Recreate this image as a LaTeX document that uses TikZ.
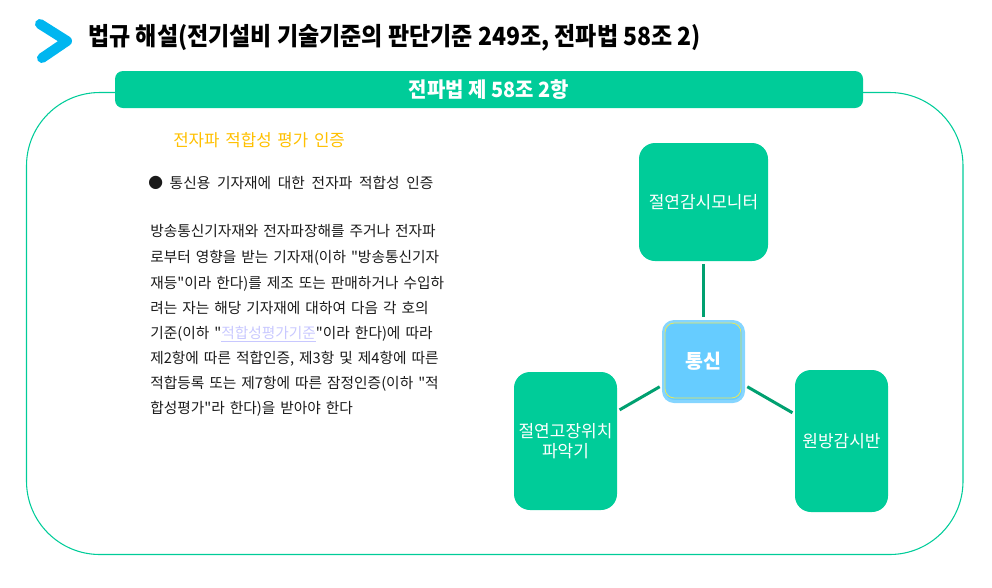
\documentclass[tikz,border=0pt]{standalone}
\usepackage{fontspec}
\setmainfont{Noto Sans CJK KR}[Ligatures=TeXOff]
\newfontfamily\krcond{Noto Sans CJK KR}[Ligatures=TeXOff, FakeStretch=0.92]
\newfontfamily\krhdr{Noto Sans CJK KR}[Ligatures=TeXOff, FakeStretch=0.95]
\definecolor{grn}{HTML}{00CC99}
\definecolor{dgrn}{HTML}{00A070}
\definecolor{sky}{HTML}{66CCFF}
\definecolor{skyb}{HTML}{85D5FF}
\definecolor{ylwline}{HTML}{E8E85A}
\definecolor{ylw}{HTML}{FFC000}
\definecolor{chev}{HTML}{00B6F0}
\definecolor{lnk}{HTML}{C8C8FF}
\definecolor{txt}{HTML}{1A1A1A}
\newcommand{\px}[1]{\fontsize{\dimexpr #1pt*3/4\relax}{\dimexpr #1pt*9/10\relax}\selectfont}
\newcommand{\wsp}{\spaceskip=0.34em plus 0.1em\relax}
\newcommand{\wspb}{\spaceskip=0.46em plus 0.1em\relax}
\tikzset{
  line/.style={inner sep=0pt, text height=0.88em, text depth=0.12em, anchor=west},
  bodytxt/.style={line, text=txt, font=\px{14.7}\wsp},
  greenbox/.style={fill=grn, rounded corners=12pt, text=white, font=\px{17}, align=center, inner sep=0pt},
  conn/.style={draw=dgrn, line width=2.25pt, shorten <=2pt, shorten >=2pt},
}
\begin{document}
\begin{tikzpicture}[x=0.75pt, y=-0.75pt]
\useasboundingbox (0,0) rectangle (992,587);
% chevron logo
\draw[chev, line width=7.5pt, line cap=round, line join=round] (40,24) -- (67,41) -- (42,58);
% title
\node[line, font=\krcond\bfseries\px{25}] (title) at (88,40) {법규 해설(전기설비 기술기준의 판단기준 249조, 전파법 58조 2)};
% frame
\draw[grn, line width=0.8pt, rounded corners=55pt] (26.5,92.5) rectangle (963,554.5);
% header
\node[fill=grn, rounded corners=6pt, minimum width=561pt, minimum height=27.75pt, inner sep=0pt] (hdr) at (489,89.5) {};
\node[text=white, font=\krhdr\bfseries\px{21}, inner sep=0pt] (hdrt) at (hdr.center) {전파법 제 58조 2항};
% left text
\node[line, text=ylw, font=\px{16.8}\wsp] (sub) at (173,141) {전자파 적합성 평가 인증};
\node[line, text=txt, font=\px{14.7}\wspb] (bul) at (148,183) {● 통신용 기자재에 대한 전자파 적합성 인증};
\node[bodytxt] (l1) at (150,231.7) {방송통신기자재와 전자파장해를 주거나 전자파};
\node[bodytxt] (l2) at (150,257.3) {로부터 영향을 받는 기자재(이하 "방송통신기자};
\node[bodytxt] (l3) at (150,283.3) {재등"이라 한다)를 제조 또는 판매하거나 수입하};
\node[bodytxt] (l4) at (150,308.3) {려는 자는 해당 기자재에 대하여 다음 각 호의};
\node[bodytxt] (l5) at (150,333.3) {기준(이하 "\textcolor{lnk}{\underline{적합성평가기준}}"이라 한다)에 따라};
\node[bodytxt] (l6) at (150,358.3) {제2항에 따른 적합인증, 제3항 및 제4항에 따른};
\node[bodytxt] (l7) at (150,383.3) {적합등록 또는 제7항에 따른 잠정인증(이하 "적};
\node[bodytxt] (l8) at (150,408.3) {합성평가"라 한다)을 받아야 한다};
% diagram
\node[greenbox, minimum width=96.75pt, minimum height=88.5pt] (top) at (703.5,202) {절연감시모니터};
\node[greenbox, minimum width=77.25pt, minimum height=103.5pt] (left) at (565.5,441) {절연고장위치\\[0pt]파악기};
\node[greenbox, minimum width=69.75pt, minimum height=106.5pt] (right) at (841.5,441) {원방감시반};
\node[fill=sky, draw=skyb, line width=2.25pt, rounded corners=8pt, minimum width=60pt, minimum height=60pt, inner sep=0pt, text=white, font=\bfseries\px{19.5}] (c) at (703.5,361.5) {통신};
\node[draw=ylwline, line width=0.6pt, rounded corners=7pt, minimum width=57pt, minimum height=56.25pt, inner sep=0pt] (cin) at (703,360.5) {};
\draw[conn] (top) -- (c);
\draw[conn] (c) -- (left);
\draw[conn] (c) -- (right);
\end{tikzpicture}
\end{document}
